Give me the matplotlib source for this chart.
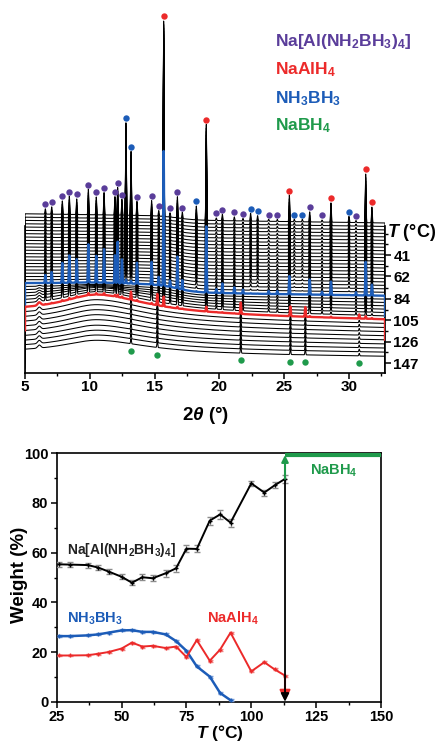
import numpy as np
import matplotlib
matplotlib.use('Agg')
import matplotlib.pyplot as plt
from matplotlib.ticker import MultipleLocator, FixedLocator

plt.rcParams['font.family'] = ['Liberation Sans', 'DejaVu Sans']
plt.rcParams['font.weight'] = 'bold'
plt.rcParams['mathtext.fontset'] = 'custom'
plt.rcParams['mathtext.rm'] = 'Liberation Sans:bold'
plt.rcParams['mathtext.it'] = 'Liberation Sans:italic:bold'
plt.rcParams['mathtext.bf'] = 'Liberation Sans:bold'
plt.rcParams['axes.linewidth'] = 1.2

PURPLE = '#5a3d9a'
RED = '#ec2a2a'
BLUE = '#1c5cb8'
GREEN = '#1f9a4b'

# ---------------- bottom panel data ----------------
T_meas = [26, 30, 37, 41, 45, 50, 54, 58, 62, 67, 71, 75, 79, 84, 88, 92, 100, 105, 109, 113]
w_naalnb = [55.3, 55.2, 55.0, 54.0, 52.4, 50.3, 47.9, 50.1, 49.7, 51.7, 53.7, 61.6, 61.5,
            72.9, 75.4, 72.1, 87.9, 84.2, 87.1, 89.7]
err_naalnb = [1.0, 1.0, 1.0, 1.0, 1.0, 1.1, 1.1, 1.2, 1.2, 1.3, 1.3, 1.4, 1.4, 1.6, 1.8,
              1.6, 1.0, 1.2, 1.2, 1.6]
T_nh3bh3 = [26, 30, 37, 41, 45, 50, 54, 58, 62, 67, 71, 75, 79, 84, 88, 92]
w_nh3bh3 = [26.4, 26.4, 26.7, 27.1, 27.8, 28.7, 28.8, 28.1, 28.1, 27.1, 24.4, 20.5, 14.2,
            10.1, 3.5, 0.6]
w_naalh4 = [18.6, 18.6, 18.7, 19.3, 20.0, 21.4, 23.8, 22.2, 22.5, 21.6, 22.2, 18.0, 24.8,
            16.5, 21.0, 27.8, 12.2, 15.9, 13.0, 10.5]
T_nabh4 = [113, 150]
w_nabh4 = [99.3, 99.3]

# ---------------- top panel data (XRD) ----------------
two_theta_lim = [5.0, 32.78]
trace_T = [20.0, 23.4, 26.8, 30.2, 33.6, 37.0, 40.4, 43.8, 47.2, 50.6, 54.0, 57.4, 60.8,
           64.2, 67.6, 71.0, 74.4, 77.8, 81.2, 84.6, 88.0, 91.4, 94.8, 98.2, 101.6, 105.0,
           108.4, 111.8, 115.2, 119.2, 123.2, 127.2, 131.2, 135.2, 139.2, 143.2, 147.2, 151.2]
blue_trace = 21
red_trace = 28
right_ticks = [41, 62, 84, 105, 126, 147]

# peak positions (2theta) and heights in the first pattern
pk_naal_pos = [6.57, 7.06, 7.88, 8.42, 8.99, 9.89, 10.50, 11.10, 11.94, 12.15, 12.48, 13.64,
               14.77, 15.32, 16.19, 16.76, 17.14, 19.76, 20.23, 21.15, 21.82, 23.80, 24.47,
               26.97, 27.92, 30.54]
pk_naal_h = [5.2, 7.2, 13.2, 17.9, 15.4, 25.0, 17.5, 21.9, 18.1, 27.1, 15.6, 13.8, 15.0, 5.5,
             4.2, 20.8, 6.2, 2.5, 6.3, 3.9, 2.5, 2.0, 2.0, 9.9, 2.0, 2.0]
pk_naalh4_pos = [15.70, 18.99, 25.40, 28.61, 31.29, 31.77]
pk_naalh4_h = [192, 94, 26, 19, 48, 15.5]
pk_nh3bh3_pos = [12.79, 13.18, 18.22, 22.41, 22.95, 25.78, 26.40, 30.00]
pk_nh3bh3_h = [91, 63, 13.5, 7.7, 5.4, 2.5, 2.5, 6.0]
pk_nabh4_pos = [13.18, 15.21, 21.65, 25.48, 26.63, 30.79]
pk_nabh4_h = [5, 7, 7, 6, 6, 2.5]
pk_amorph_pos = [6.10]
pk_amorph_h = [3.0]

# per-pattern phase scale factors
scale_naal = [1.00, 1.00, 1.02, 1.04, 1.06, 1.08, 1.10, 1.12, 1.14, 1.17, 1.20, 1.22, 1.25,
              1.28, 1.30, 1.33, 1.36, 1.40, 1.43, 1.46, 1.50, 1.50, 1.50, 1.48, 1.45, 1.40,
              1.35, 1.30, 0.08, 0, 0, 0, 0, 0, 0, 0, 0, 0]
scale_nh3bh3 = [1.00, 1.00, 1.00, 1.01, 1.03, 1.05, 1.07, 1.09, 1.10, 1.10, 1.10, 1.08, 1.07,
                1.07, 1.04, 0.95, 0.80, 0.62, 0.47, 0.36, 0.16, 0.04, 0, 0, 0, 0, 0, 0, 0,
                0, 0, 0, 0, 0, 0, 0, 0, 0]
scale_naalh4 = [1.00, 1.00, 1.00, 1.00, 1.00, 1.00, 1.00, 1.00, 1.00, 1.00, 1.00, 0.95, 0.92,
                0.90, 0.88, 0.85, 0.82, 0.80, 0.77, 0.74, 0.71, 0.69, 0.60, 0.50, 0.40, 0.30,
                0.20, 0.12, 0.05, 0, 0, 0, 0, 0, 0, 0, 0, 0]
scale_nabh4 = [0, 0, 0, 0, 0, 0, 0, 0, 0, 0, 0, 0, 0, 0, 0, 0, 0, 0, 0, 0, 0, 0, 0, 0, 0, 0,
               0, 0, 1.6, 1.0, 1.0, 1.0, 1.0, 1.0, 1.0, 1.0, 1.0, 1.0]
scale_amorph = [0, 0, 0, 0, 0, 0, 0, 0, 0, 0, 0, 0, 0, 0, 0, 0, 0, 0, 0, 0, 0, 0, 0.3, 0.45,
                0.6, 0.75, 0.9, 1.0, 1.0, 1.0, 1.0, 1.0, 1.0, 1.0, 1.0, 1.0, 1.0, 1.0]
# background components per pattern
bg_lin = [5, 5, 5, 5, 5, 5, 5, 5, 5, 5, 5, 5, 5, 5, 5, 5, 5, 5, 5, 5, 5, 5, 5.5, 6, 6.5, 7,
          7.5, 8, 8, 7.5, 7, 6.5, 6, 5.5, 5, 4.5, 4.2, 4.0]
bg_step = [4.0, 4.1, 4.3, 4.4, 4.6, 4.7, 4.9, 5.0, 5.1, 5.3, 5.4, 5.6, 5.7, 5.9, 6.0, 6.1, 6.3,
           6.4, 6.6, 6.7, 6.9, 7.0, 6, 5, 4, 3, 2, 1, 0, 0, 0, 0, 0, 0, 0, 0, 0, 0]
bg_hump = [0, 0, 0, 0, 0, 0, 0, 0, 0, 0, 0.1, 0.2, 0.3, 0.4, 0.5, 0.7, 0.9, 1.1, 1.3, 1.5, 1.8,
           2.0, 4, 7, 10, 13, 15, 17, 18.6, 18, 17.5, 17, 16.5, 16, 15, 14.5, 14, 13]

# ---------------- figure ----------------
fig = plt.figure(figsize=(4.44, 7.42), dpi=100)

ax = fig.add_axes([25 / 444, 1 - 373 / 742, 360 / 444, (373 - 7) / 742])
y_bottom = 41 + (373 - 255) / 1.02
y_top = 41 + (7 - 255) / 1.02
ax.set_xlim(two_theta_lim)
ax.set_ylim(y_bottom, y_top)
offset = -10.4

x = np.linspace(two_theta_lim[0], two_theta_lim[1], 4000)


def peaks(pos, h, sigma=0.03):
    out = np.zeros_like(x)
    for p, a in zip(pos, h):
        out += a * np.exp(-0.5 * ((x - p) / sigma) ** 2)
    return out


P_naal = peaks(pk_naal_pos, pk_naal_h)
P_naalh4 = peaks(pk_naalh4_pos, pk_naalh4_h)
P_nh3 = peaks(pk_nh3bh3_pos, pk_nh3bh3_h)
P_nabh4 = peaks(pk_nabh4_pos, pk_nabh4_h)
P_am = peaks(pk_amorph_pos, pk_amorph_h, sigma=0.12)
L = (x.max() - x) / (x.max() - x.min())
S = 1 / (1 + np.exp((x - 16.8) / 0.7))
H = np.where(x < 10.6, 1 / (1 + ((x - 10.6) / 3.4) ** 2), 1 / (1 + ((x - 10.6) / 4.7) ** 2))

curves = []
bgs = []
for i, T in enumerate(trace_T):
    bg = bg_lin[i] * L + bg_step[i] * S + bg_hump[i] * H
    inten = (bg + scale_naal[i] * P_naal + scale_naalh4[i] * P_naalh4 + scale_nh3bh3[i] * P_nh3
             + scale_nabh4[i] * P_nabh4 + scale_amorph[i] * P_am)
    y = T + offset - inten
    curves.append(y)
    bgs.append(T + offset - bg)
    xx = np.concatenate([[x[0]], x, [x[-1]]])
    yy = np.concatenate([[y[0] + 23], y, [y[-1] + 20]])
    if i == blue_trace:
        ax.plot(xx, yy, color=BLUE, lw=1.7, zorder=4)
    elif i == red_trace:
        ax.plot(xx, yy, color=RED, lw=1.7, zorder=4)
    else:
        ax.plot(xx, yy, color='black', lw=0.75, zorder=2)

curves = np.array(curves)
top_env = curves.min(axis=0)


def dots(pos_list, color):
    xs, ys = [], []
    for p in pos_list:
        j = int(np.argmin(np.abs(x - p)))
        xs.append(p)
        ys.append(top_env[max(j - 4, 0):j + 5].min() - 4.5)
    ax.plot(xs, ys, 'o', color=color, ms=4.6, mec='none', zorder=6, clip_on=False)


dots(pk_naal_pos, PURPLE)
dots(pk_naalh4_pos, RED)
dots(pk_nh3bh3_pos, BLUE)
gx, gy = [], []
for p in pk_nabh4_pos:
    j = int(np.argmin(np.abs(x - p)))
    gx.append(p)
    gy.append(bgs[-1][j] + 7)
ax.plot(gx, gy, 'o', color=GREEN, ms=4.6, mec='none', zorder=6)

for s in ['top']:
    ax.spines[s].set_visible(False)
ax.spines['left'].set_bounds(y_bottom, 41 + (226 - 255) / 1.02)
ax.spines['right'].set_bounds(y_bottom, 41 + (226 - 255) / 1.02)
ax.xaxis.set_major_locator(MultipleLocator(5))
ax.xaxis.set_minor_locator(MultipleLocator(2.5))
ax.tick_params(axis='x', which='major', direction='out', length=4, width=1.1, labelsize=11, pad=1)
ax.tick_params(axis='x', which='minor', direction='out', length=2.5, width=1.0)
ax.yaxis.tick_right()
ax.yaxis.set_major_locator(FixedLocator(right_ticks))
ax.set_yticklabels([str(t) for t in right_ticks])
ax.yaxis.set_minor_locator(FixedLocator([20, 30.5, 51.5, 73, 94.5, 115.5, 136.5]))
ax.tick_params(axis='y', which='major', direction='out', length=4, width=1.1, labelsize=11, pad=2)
ax.tick_params(axis='y', which='minor', direction='out', length=2.5, width=1.0)
ax.text(32.92, 19.4, '$T$ (°C)', fontsize=13, ha='left', va='center', clip_on=False)
fig.text(206 / 444, 1 - 415 / 742, r'2$\theta$ (°)', fontsize=13.5, ha='center', va='center')

fig.text(275 / 444, 1 - 45.7 / 742, r'Na[Al(NH$_2$BH$_3$)$_4$]', color=PURPLE, fontsize=12.5,
         va='baseline', ha='left')
fig.text(275 / 444, 1 - 74.3 / 742, r'NaAlH$_4$', color=RED, fontsize=12.5, va='baseline', ha='left')
fig.text(275 / 444, 1 - 103.3 / 742, r'NH$_3$BH$_3$', color=BLUE, fontsize=12.5, va='baseline', ha='left')
fig.text(275 / 444, 1 - 130 / 742, r'NaBH$_4$', color=GREEN, fontsize=12.5, va='baseline', ha='left')

# ---------------- bottom panel ----------------
ax2 = fig.add_axes([56.7 / 444, 1 - 701.7 / 742, (381 - 56.7) / 444, (701.7 - 453.3) / 742])
ax2.set_xlim(25, 150)
ax2.set_ylim(0, 100)
ax2.errorbar(T_meas, w_naalnb, yerr=err_naalnb, color='black', ecolor='#8c8c8c', elinewidth=0.8,
             capsize=2.5, capthick=0.8, lw=1.4, marker='+', ms=3, mew=1, zorder=3)
ax2.errorbar(T_nh3bh3, w_nh3bh3, yerr=0.4, color=BLUE, ecolor='#7fa0d8', elinewidth=0.6,
             capsize=1.8, capthick=0.6, lw=1.8, marker='+', ms=3, mew=1, zorder=3)
ax2.errorbar(T_meas, w_naalh4, yerr=0.4, color=RED, ecolor='#f08a8a', elinewidth=0.6,
             capsize=1.8, capthick=0.6, lw=1.4, marker='+', ms=3, mew=1, zorder=3)
ax2.plot(T_nabh4, w_nabh4, color=GREEN, lw=3, zorder=3, solid_capstyle='butt')
ax2.annotate('', xy=(T_meas[-1], 0.3), xytext=(T_meas[-1], w_naalh4[-1]),
             arrowprops=dict(arrowstyle='-|>', color=RED, lw=1.5, mutation_scale=16,
                             shrinkA=0, shrinkB=0), zorder=4)
ax2.annotate('', xy=(T_meas[-1], 0), xytext=(T_meas[-1], w_naalnb[-1]),
             arrowprops=dict(arrowstyle='-|>', color='black', lw=1.3, mutation_scale=12,
                             shrinkA=0, shrinkB=0), zorder=5)
ax2.annotate('', xy=(T_nabh4[0], w_nabh4[0]), xytext=(T_nabh4[0], w_naalnb[-1]),
             arrowprops=dict(arrowstyle='-|>', color=GREEN, lw=1.5, mutation_scale=10,
                             shrinkA=0, shrinkB=0), zorder=5)

ax2.xaxis.set_major_locator(MultipleLocator(25))
ax2.xaxis.set_minor_locator(MultipleLocator(12.5))
ax2.yaxis.set_major_locator(MultipleLocator(20))
ax2.yaxis.set_minor_locator(MultipleLocator(10))
ax2.tick_params(which='major', direction='out', length=4, width=1.1, labelsize=10.5, pad=2)
ax2.tick_params(which='minor', direction='out', length=2.5, width=1.0)

ax2.text(28.9, 59.5, r'Na[Al(NH$_2$BH$_3$)$_4$]', color='#222222', fontsize=10, va='baseline')
ax2.text(28.9, 32.0, r'NH$_3$BH$_3$', color=BLUE, fontsize=10.5, va='baseline')
ax2.text(82.8, 31.8, r'NaAlH$_4$', color=RED, fontsize=10.5, va='baseline')
ax2.text(122.6, 91.3, r'NaBH$_4$', color=GREEN, fontsize=10.5, va='baseline')

fig.text(19 / 444, 1 - 574.5 / 742, 'Weight (%)', rotation=90, fontsize=13.5, ha='center', va='center')
fig.text(219.5 / 444, 1 - 733 / 742, '$T$ (°C)', fontsize=12.5, ha='center', va='center')

fig.savefig('out.png', dpi=100)
